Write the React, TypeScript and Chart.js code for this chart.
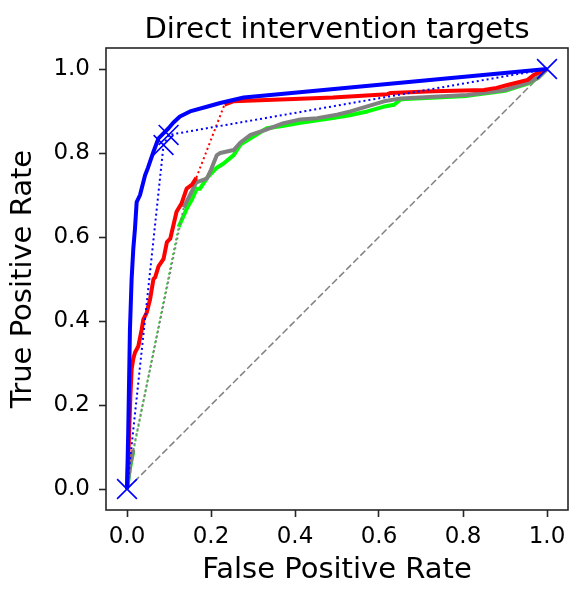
import React, { useEffect, useRef } from "react";
import { Chart, registerables } from "chart.js";

Chart.register(...registerables);

const TITLE = "Direct intervention targets";
const X_LABEL = "False Positive Rate";
const Y_LABEL = "True Positive Rate";
const TICK_VALUES = [0, 0.2, 0.4, 0.6, 0.8, 1.0];

type Pt = [number, number];

// Blue model: ROC curve (solid) and thresholded points (dotted + X markers)
const blueCurve: Pt[] = [
  [0, 0], [0.003, 0.14], [0.007, 0.38], [0.011, 0.5], [0.015, 0.572], [0.019, 0.62],
  [0.023, 0.683], [0.031, 0.7], [0.043, 0.747], [0.05, 0.765], [0.063, 0.803],
  [0.075, 0.835], [0.085, 0.845], [0.099, 0.859], [0.11, 0.872], [0.126, 0.887],
  [0.15, 0.899], [0.19, 0.91], [0.222, 0.919], [0.278, 0.932], [1, 1],
];
const blueThresholds: Pt[] = [[0, 0], [0.087, 0.819], [0.099, 0.843], [1, 1]];

// Red model: solid lower part, dotted gap, solid upper part
const redLower: Pt[] = [
  [0, 0], [0.004, 0.1], [0.008, 0.22], [0.011, 0.285], [0.015, 0.31], [0.019, 0.325],
  [0.027, 0.34], [0.035, 0.38], [0.039, 0.404], [0.047, 0.42], [0.055, 0.452],
  [0.063, 0.5], [0.067, 0.504], [0.075, 0.53], [0.087, 0.548], [0.095, 0.588],
  [0.103, 0.596], [0.118, 0.66], [0.13, 0.68], [0.142, 0.715], [0.155, 0.725], [0.165, 0.741],
];
const redGap: Pt[] = [[0.165, 0.741], [0.232, 0.915]];
const redUpper: Pt[] = [
  [0.232, 0.915], [0.253, 0.923], [0.3, 0.925], [0.413, 0.929], [0.49, 0.932],
  [0.62, 0.94], [0.628, 0.943], [0.73, 0.947], [0.85, 0.95], [0.88, 0.955],
  [0.906, 0.962], [0.954, 0.974], [0.969, 0.986], [1, 1],
];

// Gray model
const grayStart: Pt[] = [[0, 0], [0.008, 0.06], [0.015, 0.093]];
const grayGap: Pt[] = [[0.015, 0.093], [0.135, 0.67]];
const grayUpper: Pt[] = [
  [0.135, 0.67], [0.15, 0.7], [0.165, 0.73], [0.19, 0.739], [0.2, 0.76], [0.214, 0.795],
  [0.222, 0.8], [0.254, 0.807], [0.27, 0.825], [0.294, 0.843], [0.33, 0.855],
  [0.373, 0.871], [0.413, 0.88], [0.453, 0.883], [0.5, 0.891], [0.532, 0.899],
  [0.572, 0.911], [0.612, 0.923], [0.652, 0.93], [0.81, 0.938], [0.9, 0.95],
  [0.954, 0.967], [0.98, 0.98], [1, 1],
];

// Green model
const greenStart: Pt[] = [[0, 0], [0.008, 0.055], [0.015, 0.09]];
const greenGap: Pt[] = [[0.015, 0.09], [0.123, 0.624]];
const greenUpper: Pt[] = [
  [0.123, 0.624], [0.142, 0.667], [0.155, 0.69], [0.166, 0.715], [0.174, 0.715],
  [0.19, 0.74], [0.214, 0.765], [0.23, 0.775], [0.254, 0.795], [0.27, 0.82],
  [0.294, 0.835], [0.333, 0.859], [0.373, 0.865], [0.413, 0.872], [0.49, 0.883],
  [0.53, 0.89], [0.572, 0.899], [0.61, 0.91], [0.636, 0.915], [0.652, 0.928],
  [0.81, 0.936], [0.9, 0.948], [0.954, 0.965], [0.98, 0.98], [1, 1],
];

// Chance diagonal
const chanceLine: Pt[] = [[0, 0], [1, 1]];

const BLUE = "#0000ff";
const RED = "#ff0000";
const GREEN = "#00ff00";
const GRAY = "#808080";
const FONT = "'DejaVu Sans', sans-serif";

const toXY = (pts: Pt[]) => pts.map(([x, y]) => ({ x, y }));

const solid = (pts: Pt[], color: string) => ({
  data: toXY(pts),
  borderColor: color,
  backgroundColor: color,
  borderWidth: 4,
  showLine: true,
  pointRadius: 0,
  pointHoverRadius: 0,
  tension: 0,
  borderJoinStyle: "round" as const,
  borderCapStyle: "butt" as const,
});

const dotted = (pts: Pt[], color: string) => ({
  data: toXY(pts),
  borderColor: color,
  backgroundColor: color,
  borderWidth: 2,
  borderDash: [2, 3],
  showLine: true,
  pointRadius: 0,
  pointHoverRadius: 0,
  tension: 0,
});

const frameAndTitle = {
  id: "frameAndTitle",
  afterDatasetsDraw(chart: any) {
    const { ctx, chartArea: a } = chart;
    ctx.save();
    ctx.strokeStyle = "#262626";
    ctx.lineWidth = 1.6;
    ctx.strokeRect(a.left, a.top, a.right - a.left, a.bottom - a.top);
    ctx.fillStyle = "#000";
    ctx.font = `29px ${FONT}`;
    ctx.textAlign = "center";
    ctx.textBaseline = "alphabetic";
    ctx.fillText(TITLE, (a.left + a.right) / 2, 38);
    ctx.restore();
  },
};

export default function App() {
  const ref = useRef<HTMLCanvasElement | null>(null);

  useEffect(() => {
    if (!ref.current) return;
    const chart = new Chart(ref.current, {
      type: "scatter",
      data: {
        datasets: [
          {
            data: toXY(blueThresholds),
            borderColor: BLUE,
            backgroundColor: BLUE,
            pointStyle: "crossRot",
            pointRadius: 14,
            pointBorderWidth: 1.6,
            showLine: false,
          } as any,
          solid(blueCurve, BLUE),
          dotted(blueThresholds, BLUE),
          solid(redLower, RED),
          solid(redUpper, RED),
          dotted(redGap, RED),
          solid(grayStart, GRAY),
          solid(grayUpper, GRAY),
          dotted(grayGap, GRAY),
          solid(greenStart, GREEN),
          solid(greenUpper, GREEN),
          dotted(greenGap, "#33cc33"),
          {
            data: toXY(chanceLine),
            borderColor: GRAY,
            borderWidth: 1.5,
            borderDash: [7, 3],
            showLine: true,
            pointRadius: 0,
            tension: 0,
          } as any,
        ],
      },
      options: {
        animation: false,
        responsive: false,
        devicePixelRatio: 1,
        events: [],
        layout: { padding: { left: 0, right: 18, top: 48, bottom: 0 } },
        plugins: {
          legend: { display: false },
          tooltip: { enabled: false },
          title: { display: false },
        },
        scales: {
          x: {
            type: "linear",
            min: -0.05,
            max: 1.05,
            afterBuildTicks: (scale: any) => {
              scale.ticks = TICK_VALUES.map((v) => ({ value: v }));
            },
            afterFit: (scale: any) => {
              scale.height = 91;
            },
            grid: {
              drawOnChartArea: false,
              drawTicks: true,
              tickLength: 7,
              tickWidth: 1.6,
              tickColor: "#262626",
            },
            border: { display: false },
            ticks: {
              color: "#000",
              font: { family: FONT, size: 23 },
              padding: 6,
              maxRotation: 0,
              callback: (v: any) => Number(v).toFixed(1),
            },
            title: {
              display: true,
              text: X_LABEL,
              color: "#000",
              font: { family: FONT, size: 29 },
              padding: { top: 0, bottom: 13.6 },
            },
          },
          y: {
            type: "linear",
            min: -0.05,
            max: 1.05,
            afterBuildTicks: (scale: any) => {
              scale.ticks = TICK_VALUES.map((v) => ({ value: v }));
            },
            afterFit: (scale: any) => {
              scale.width = 106;
            },
            grid: {
              drawOnChartArea: false,
              drawTicks: true,
              tickLength: 7,
              tickWidth: 1.6,
              tickColor: "#262626",
            },
            border: { display: false },
            ticks: {
              color: "#000",
              font: { family: FONT, size: 23 },
              padding: 9,
              callback: (v: any) => Number(v).toFixed(1),
            },
            title: {
              display: true,
              text: Y_LABEL,
              color: "#000",
              font: { family: FONT, size: 29 },
              padding: { top: 6, bottom: 0 },
            },
          },
        },
      },
      plugins: [frameAndTitle],
    });
    return () => chart.destroy();
  }, []);

  return (
    <div style={{ position: "absolute", left: 0, top: 0, width: 586, height: 601, background: "#fff" }}>
      <canvas ref={ref} width={586} height={601} style={{ display: "block", width: 586, height: 601 }} />
    </div>
  );
}
